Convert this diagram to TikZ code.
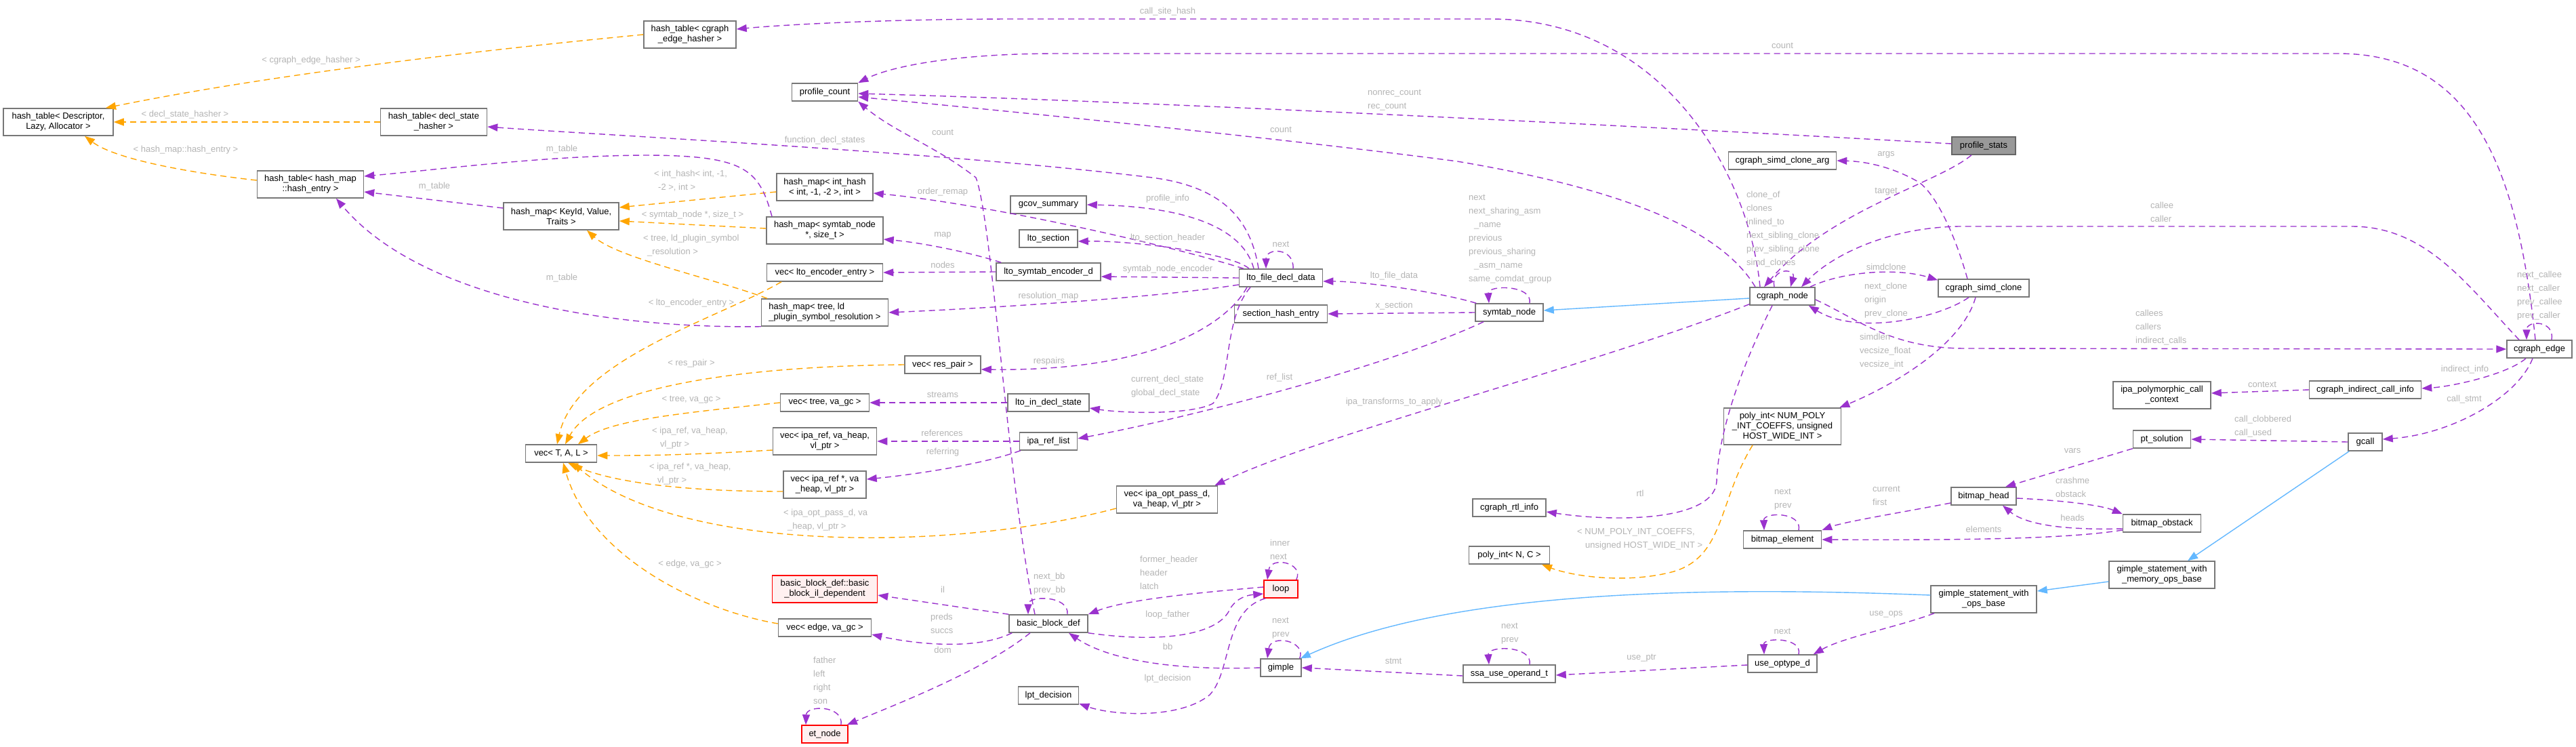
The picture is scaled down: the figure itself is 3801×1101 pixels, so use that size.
\documentclass[tikz,border=0pt]{standalone}
\usepackage{fontspec}
\setmainfont{Liberation Sans}
\usetikzlibrary{arrows.meta}
\definecolor{purp}{HTML}{9A32CD}
\definecolor{orng}{HTML}{FFA500}
\definecolor{blu}{HTML}{63B8FF}
\definecolor{lblc}{HTML}{B4B4B4}
\definecolor{bord}{HTML}{777777}
\definecolor{redfill}{HTML}{FFF0F0}
\definecolor{mainfill}{HTML}{999999}
\tikzset{
 box/.style={draw=bord, line width=1.5pt, fill=white, inner sep=0pt, minimum height=26pt, align=center, font=\fontsize{13}{15}\selectfont},
 redbox/.style={box, draw=red, fill=redfill},
 mainbox/.style={box, draw=black!60, fill=mainfill},
 pe/.style={draw=purp, line width=1.4pt, dash pattern=on 9pt off 6pt, -{Triangle[length=15pt,width=11pt]}},
 oe/.style={pe, draw=orng},
 be/.style={draw=blu, line width=1.4pt, -{Triangle[length=15pt,width=11pt]}},
 lbl/.style={text=lblc, font=\fontsize{13}{20}\selectfont, inner sep=0pt, align=left},
}
\begin{document}
\begin{tikzpicture}[x=1pt,y=-1pt]
\path[use as bounding box, fill=white] (0,0) rectangle (3801,1101);
% nodes
\node[box, minimum width=162pt, minimum height=40pt] (htd) at (86,180) {hash\_table< Descriptor,\\Lazy, Allocator >};
\node[box, minimum width=157pt, minimum height=40pt] (htdsh) at (640,180) {hash\_table< decl\_state\\\_hasher >};
\node[box, minimum width=157pt, minimum height=40pt] (hthe) at (458,272) {hash\_table< hash\_map\\::hash\_entry >};
\node[box, minimum width=170pt, minimum height=40pt] (hmkvt) at (828,319) {hash\_map< KeyId, Value,\\Traits >};
\node[box, minimum width=136pt, minimum height=40pt] (htceh) at (1018,51) {hash\_table< cgraph\\\_edge\_hasher >};
\node[box, minimum width=97pt] (pc) at (1217,136) {profile\_count};
\node[box, minimum width=142pt, minimum height=40pt] (hmih) at (1217,276) {hash\_map< int\_hash\\< int, -1, -2 >, int >};
\node[box, minimum width=112pt] (gcov) at (1547,302) {gcov\_summary};
\node[box, minimum width=86pt] (ltosec) at (1547,352) {lto\_section};
\node[box, minimum width=172pt, minimum height=40pt] (hmsn) at (1217,340) {hash\_map< symtab\_node\\*, size\_t >};
\node[box, minimum width=159pt] (csca) at (2630,237) {cgraph\_simd\_clone\_arg};
\node[mainbox, minimum width=94pt] (ps) at (2927,215) {profile\_stats};
\node[box, minimum width=105pt] (vtal) at (828,669) {vec< T, A, L >};
\node[box, minimum width=171pt] (vlee) at (1217,402) {vec< lto\_encoder\_entry >};
\node[box, minimum width=154pt] (lsed) at (1547,401) {lto\_symtab\_encoder\_d};
\node[box, minimum width=187pt, minimum height=40pt, align=left] (hmtree) at (1217,461) {hash\_map< tree, ld\\\_plugin\_symbol\_resolution >};
\node[box, minimum width=112pt] (vrp) at (1391,538) {vec< res\_pair >};
\node[box, minimum width=131pt] (vtvg) at (1217,594) {vec< tree, va\_gc >};
\node[box, minimum width=120pt] (lids) at (1547,594) {lto\_in\_decl\_state};
\node[box, minimum width=153pt, minimum height=40pt] (vir) at (1217,651) {vec< ipa\_ref, va\_heap,\\vl\_ptr >};
\node[box, minimum width=85pt] (irl) at (1547,651) {ipa\_ref\_list};
\node[box, minimum width=122pt, minimum height=40pt] (virp) at (1217,715) {vec< ipa\_ref *, va\\\_heap, vl\_ptr >};
\node[box, minimum width=123pt] (lfdd) at (1890,410) {lto\_file\_decl\_data};
\node[box, minimum width=137pt] (she) at (1890,463) {section\_hash\_entry};
\node[box, minimum width=149pt, minimum height=40pt] (viop) at (1722,737) {vec< ipa\_opt\_pass\_d,\\va\_heap, vl\_ptr >};
\node[redbox, minimum width=155pt, minimum height=40pt] (bbil) at (1217,869) {basic\_block\_def::basic\\\_block\_il\_dependent};
\node[box, minimum width=137pt] (veg) at (1217,926) {vec< edge, va\_gc >};
\node[box, minimum width=116pt] (bbd) at (1547,920) {basic\_block\_def};
\node[box, minimum width=89pt] (lpt) at (1547,1026) {lpt\_decision};
\node[redbox, minimum width=68pt] (et) at (1217,1083) {et\_node};
\node[redbox, minimum width=50pt] (loop) at (1890,869) {loop};
\node[box, minimum width=60pt] (gimple) at (1890,985) {gimple};
\node[box, minimum width=100pt] (symtab) at (2227,461) {symtab\_node};
\node[box, minimum width=96pt] (cgn) at (2630,437) {cgraph\_node};
\node[box, minimum width=173pt, minimum height=54pt] (polyN) at (2630,629) {poly\_int< NUM\_POLY\\\_INT\_COEFFS, unsigned\\HOST\_WIDE\_INT >};
\node[box, minimum width=134pt] (csc) at (2927,425) {cgraph\_simd\_clone};
\node[box, minimum width=96pt] (cge) at (3747,515) {cgraph\_edge};
\node[box, minimum width=144pt, minimum height=40pt] (ipcc) at (3190,583) {ipa\_polymorphic\_call\\\_context};
\node[box, minimum width=165pt] (cici) at (3490,575) {cgraph\_indirect\_call\_info};
\node[box, minimum width=85pt] (pts) at (3190,648) {pt\_solution};
\node[box, minimum width=50pt] (gcall) at (3490,652) {gcall};
\node[box, minimum width=96pt] (bmh) at (2927,732) {bitmap\_head};
\node[box, minimum width=115pt] (bmo) at (3190,772) {bitmap\_obstack};
\node[box, minimum width=156pt, minimum height=40pt] (gswm) at (3190,848) {gimple\_statement\_with\\\_memory\_ops\_base};
\node[box, minimum width=156pt, minimum height=40pt] (gswo) at (2927,884) {gimple\_statement\_with\\\_ops\_base};
\node[box, minimum width=108pt] (crtl) at (2227,749) {cgraph\_rtl\_info};
\node[box, minimum width=119pt] (polyNC) at (2227,819) {poly\_int< N, C >};
\node[box, minimum width=115pt] (bme) at (2630,796) {bitmap\_element};
\node[box, minimum width=136pt] (ssa) at (2227,994) {ssa\_use\_operand\_t};
\node[box, minimum width=102pt] (uod) at (2630,979) {use\_optype\_d};

% orange template edges
\draw[oe] (htceh.west) .. controls (700,75) and (400,110) .. ([xshift=70pt]htd.north);
\draw[oe] (htdsh.west) -- (htd.east);
\draw[oe] ([yshift=6pt]hthe.west) .. controls (280,255) and (170,235) .. ([xshift=39pt]htd.south);
\draw[oe] ([yshift=-7pt]hmih.west) -- ([yshift=13pt]hmkvt.east);
\draw[oe] ([yshift=3pt]hmsn.west) -- ([yshift=-7pt]hmkvt.east);
\draw[oe] ([xshift=-85pt]hmtree.north) .. controls (1050,410) and (910,380) .. ([xshift=38pt]hmkvt.south);
\draw[oe] ([xshift=-64pt]vlee.south) .. controls (1060,470) and (850,530) .. ([xshift=-6pt]vtal.north);
\draw[oe] (vrp.west) .. controls (1100,540) and (880,570) .. ([xshift=6pt]vtal.north);
\draw[oe] (vtvg.west) .. controls (1000,610) and (900,620) .. ([xshift=25pt]vtal.north);
\draw[oe] ([yshift=-13pt]vir.west) .. controls (1000,672) and (950,672) .. ([yshift=-3pt]vtal.east);
\draw[oe] ([yshift=-10pt]virp.west) .. controls (1000,725) and (900,710) .. ([xshift=10pt]vtal.south);
\draw[oe] ([yshift=-13pt]viop.west) .. controls (1400,815) and (1000,815) .. ([xshift=17pt]vtal.south);
\draw[oe] ([yshift=6pt]veg.west) .. controls (1030,900) and (870,820) .. ([xshift=3pt]vtal.south);
\draw[oe] ([xshift=-44pt]polyN.south) .. controls (2535,740) and (2545,820) .. (2470,843) .. controls (2400,862) and (2320,850) .. ([xshift=48pt]polyNC.south);

% blue inheritance edges
\draw[be] ([yshift=-3pt]cgn.west) -- ([yshift=3pt]symtab.east);
\draw[be] ([xshift=2pt]gcall.south west) -- ([xshift=38pt]gswm.north);
\draw[be] ([yshift=-10pt]gswm.west) -- ([yshift=12pt]gswo.east);
\draw[be] ([yshift=6pt]gswo.west) .. controls (2450,862) and (2120,880) .. ([xshift=-2pt]gimple.north east);

% purple usage edges
\draw[pe] ([yshift=3pt]ps.west) .. controls (2400,185) and (1700,150) .. ([yshift=-2pt]pc.east);
\draw[pe] ([xshift=-40pt]cgn.north) .. controls (2540,340) and (2400,280) .. (2150,238) .. controls (1900,205) and (1500,165) .. ([yshift=-7pt]pc.east);
\draw[pe] ([xshift=-33pt]cgn.north) .. controls (2580,250) and (2450,28) .. (2200,28) -- (1500,28) .. controls (1300,28) and (1150,37) .. ([yshift=8pt]htceh.east);
\draw[pe] ([xshift=-6pt]cge.north) .. controls (3715,250) and (3650,79) .. (3450,79) -- (1560,79) .. controls (1400,79) and (1310,100) .. (pc.north east);
\draw[pe] ([xshift=-30pt]cge.north) .. controls (3640,420) and (3580,334) .. (3470,334) -- (2890,334) .. controls (2780,336) and (2700,380) .. ([xshift=28pt]cgn.north);
\draw[pe] ([xshift=-18pt]ps.south) .. controls (2860,270) and (2700,310) .. ([xshift=-27pt]cgn.north);
\draw[pe] ([xshift=-24pt]csc.north) .. controls (2880,330) and (2850,280) .. (2830,268) .. controls (2790,245) and (2750,238) .. (csca.east);
\draw[pe] ([xshift=-12pt]cgn.north) .. controls (2612,395) and (2650,395) .. ([xshift=12pt]cgn.north);
\draw[pe] ([xshift=-8pt]cgn.north east) .. controls (2720,400) and (2800,395) .. ([yshift=-2pt]csc.north west);
\draw[pe] ([xshift=-22pt]csc.south) .. controls (2860,470) and (2740,495) .. ([xshift=-10pt]cgn.south east);
\draw[pe] ([xshift=-12pt]csc.south) .. controls (2895,510) and (2790,570) .. ([xshift=-3pt]polyN.north east);
\draw[pe] ([yshift=-5pt]cgn.east) .. controls (2740,470) and (2790,514) .. (2900,514) -- (cge.west);
\draw[pe] ([xshift=-15pt]cgn.south) .. controls (2560,560) and (2535,650) .. (2533,710) .. controls (2530,770) and (2380,770) .. ([yshift=-6pt]crtl.east);
\draw[pe] ([yshift=2pt]cgn.south west) .. controls (2350,540) and (1950,640) .. ([xshift=-5pt]viop.north east);
\draw[pe] ([xshift=2pt]symtab.north west) .. controls (2120,430) and (2010,415) .. ([yshift=-5pt]lfdd.east);
\draw[pe] (symtab.west) -- (she.east);
\draw[pe] ([xshift=30pt]symtab.north) .. controls (2262,420) and (2195,420) .. ([xshift=-30pt]symtab.north);
\draw[pe] ([xshift=-38pt]symtab.south) .. controls (2050,540) and (1760,615) .. ([yshift=4pt]irl.east);
\draw[pe] ([yshift=-10pt]lfdd.west) .. controls (1700,440) and (1450,455) .. (hmtree.east);
\draw[pe] (lfdd.west) -- ([yshift=-7pt]lsed.east);
\draw[pe] ([xshift=-50pt]lfdd.south) .. controls (1815,470) and (1720,548) .. ([yshift=-7pt]vrp.east);
\draw[pe] ([xshift=-45pt]lfdd.south) .. controls (1805,470) and (1818,560) .. (1790,595) .. controls (1760,612) and (1660,610) .. ([yshift=-8pt]lids.east);
\draw[pe] ([xshift=18pt]lfdd.north) .. controls (1910,365) and (1868,365) .. ([xshift=-22pt]lfdd.north);
\draw[pe] ([xshift=-33pt]lfdd.north) .. controls (1845,320) and (1800,275) .. (1700,262) .. controls (1400,225) and (900,200) .. ([yshift=-7pt]htdsh.east);
\draw[pe] ([xshift=-40pt]lfdd.north) .. controls (1835,340) and (1760,305) .. (gcov.east);
\draw[pe] ([xshift=-47pt]lfdd.north) .. controls (1820,375) and (1680,355) .. ([yshift=-4pt]ltosec.east);
\draw[pe] ([xshift=-55pt]lfdd.north) .. controls (1720,360) and (1450,300) .. ([yshift=-9pt]hmih.east);
\draw[pe] (lsed.west) -- (vlee.east);
\draw[pe] ([xshift=8pt]lsed.north west) .. controls (1430,372) and (1360,358) .. ([yshift=-13pt]hmsn.east);
\draw[pe] ([xshift=-78pt]hmsn.north) .. controls (1120,250) and (1100,229) .. (950,229) .. controls (800,230) and (650,250) .. ([yshift=12pt]hthe.east);
\draw[pe] ([yshift=12pt]hmkvt.west) -- ([yshift=-11pt]hthe.east);
\draw[pe] (hmtree.south west) .. controls (900,485) and (620,440) .. ([xshift=38pt]hthe.south);
\draw[pe] (lids.west) -- (vtvg.east);
\draw[pe] (irl.west) -- (vir.east);
\draw[pe] ([xshift=2pt]irl.south west) .. controls (1450,685) and (1350,700) .. ([yshift=8pt]virp.east);
\draw[pe] ([xshift=-20pt]bbd.north) .. controls (1485,700) and (1465,330) .. (1440,262) .. controls (1380,215) and (1320,195) .. (pc.south east);
\draw[pe] (bbd.north west) -- ([yshift=-9pt]bbil.east);
\draw[pe] ([xshift=5pt]bbd.south west) .. controls (1440,960) and (1350,950) .. ([yshift=-10pt]veg.east);
\draw[pe] ([xshift=-27pt]bbd.south) .. controls (1450,990) and (1320,1040) .. ([xshift=-2pt]et.north east);
\draw[pe] ([xshift=24pt]et.north) .. controls (1245,1040) and (1190,1040) .. ([xshift=-28pt]et.north);
\draw[pe] ([xshift=28pt]bbd.north) .. controls (1578,878) and (1517,878) .. ([xshift=-30pt]bbd.north);
\draw[pe] ([yshift=3pt]loop.west) .. controls (1760,875) and (1660,885) .. (bbd.north east);
\draw[pe] (bbd.south east) .. controls (1720,950) and (1800,935) .. (1815,898) .. controls (1825,882) and (1840,878) .. ([yshift=-7pt]loop.west);
\draw[pe] ([xshift=3pt]loop.south west) .. controls (1805,900) and (1818,990) .. (1785,1025) .. controls (1740,1062) and (1640,1055) .. ([yshift=-12pt]lpt.east);
\draw[pe] ([xshift=-3pt]loop.north east) .. controls (1925,830) and (1875,820) .. ([xshift=-20pt]loop.north);
\draw[pe] (gimple.west) .. controls (1720,990) and (1630,970) .. ([xshift=30pt]bbd.south);
\draw[pe] ([xshift=-3pt]gimple.north east) .. controls (1928,945) and (1875,935) .. ([xshift=-20pt]gimple.north);
\draw[pe] ([yshift=-3pt]ssa.west) -- (gimple.east);
\draw[pe] ([xshift=30pt]ssa.north) .. controls (2262,952) and (2195,952) .. ([xshift=-30pt]ssa.north);
\draw[pe] ([yshift=-2pt]uod.west) -- ([yshift=-2pt]ssa.east);
\draw[pe] ([xshift=24pt]uod.north) .. controls (2660,940) and (2602,940) .. ([xshift=-27pt]uod.north);
\draw[pe] ([xshift=-73pt]gswo.south) .. controls (2800,925) and (2720,940) .. ([xshift=-6pt]uod.north east);
\draw[pe] ([xshift=-20pt]cge.south) .. controls (3700,552) and (3620,570) .. ([yshift=2pt]cici.east);
\draw[pe] ([xshift=-10pt]cge.south) .. controls (3715,585) and (3620,640) .. ([yshift=4pt]gcall.east);
\draw[pe] ([xshift=18pt]cge.north) .. controls (3770,472) and (3728,472) .. ([xshift=-19pt]cge.north);
\draw[pe] (cici.west) -- ([yshift=3pt]ipcc.east);
\draw[pe] (gcall.west) -- (pts.east);
\draw[pe] (pts.south west) -- ([xshift=32pt]bmh.north);
\draw[pe] ([yshift=-3pt]bmh.east) .. controls (3040,738) and (3100,745) .. (bmo.north west);
\draw[pe] ([yshift=-8pt]bmo.west) .. controls (3050,782) and (2990,775) .. ([xshift=28pt]bmh.south);
\draw[pe] ([yshift=-10pt]bmo.west) .. controls (3050,795) and (2900,797) .. (bme.east);
\draw[pe] ([yshift=-10pt]bmh.west) .. controls (2800,757) and (2720,770) .. (bme.north east);
\draw[pe] ([xshift=24pt]bme.north) .. controls (2660,755) and (2602,755) .. ([xshift=-27pt]bme.north);

% labels (single line)
\node[lbl] (l1) at (459,89) {< cgraph\_edge\_hasher >};
\node[lbl] (l2) at (273,169) {< decl\_state\_hasher >};
\node[lbl] (l3) at (274,221) {< hash\_map::hash\_entry >};
\node[lbl] (l4) at (829,220) {m\_table};
\node[lbl] (l5) at (641,275) {m\_table};
\node[lbl] (l6) at (829,410) {m\_table};
\node[lbl] (l7) at (1723,17) {call\_site\_hash};
\node[lbl] (l8) at (1391,195) {count};
\node[lbl] (l9) at (1217,207) {function\_decl\_states};
\node[lbl] (l10) at (1022,317) {< symtab\_node *, size\_t >};
\node[lbl] (l11) at (1391,283) {order\_remap};
\node[lbl] (l12) at (1890,191) {count};
\node[lbl] (l13) at (1723,293) {profile\_info};
\node[lbl] (l14) at (1391,347) {map};
\node[lbl] (l15) at (1723,351) {lto\_section\_header};
\node[lbl] (l16) at (1890,360) {next};
\node[lbl] (l17) at (2630,67) {count};
\node[lbl] (l18) at (2783,228) {args};
\node[lbl] (l19) at (2783,283) {target};
\node[lbl] (l20) at (2783,394) {simdclone};
\node[lbl] (l21) at (3637,545) {indirect\_info};
\node[lbl] (l22) at (3338,567) {context};
\node[lbl] (l23) at (3636,589) {call\_stmt};
\node[lbl] (l24) at (3058,665) {vars};
\node[lbl] (l25) at (3058,764) {heads};
\node[lbl] (l26) at (2927,781) {elements};
\node[lbl] (l27) at (2420,728) {rtl};
\node[lbl] (l28) at (2057,593) {ipa\_transforms\_to\_apply};
\node[lbl] (l29) at (2057,407) {lto\_file\_data};
\node[lbl] (l30) at (2057,451) {x\_section};
\node[lbl] (l31) at (1888,557) {ref\_list};
\node[lbl] (l32) at (1391,391) {nodes};
\node[lbl] (l33) at (1723,397) {symtab\_node\_encoder};
\node[lbl] (l34) at (1547,437) {resolution\_map};
\node[lbl] (l35) at (1548,533) {respairs};
\node[lbl] (l36) at (1391,582) {streams};
\node[lbl] (l37) at (1390,639) {references};
\node[lbl] (l38) at (1391,667) {referring};
\node[lbl] (l39) at (1391,870) {il};
\node[lbl] (l40) at (1391,959) {dom};
\node[lbl] (l41) at (1723,907) {loop\_father};
\node[lbl] (l42) at (1723,954) {bb};
\node[lbl] (l43) at (1723,1001) {lpt\_decision};
\node[lbl] (l44) at (2056,975) {stmt};
\node[lbl] (l45) at (2422,971) {use\_ptr};
\node[lbl] (l46) at (2783,906) {use\_ops};
\node[lbl] (l47) at (2630,931) {next};
\node[lbl] (l48) at (1020,536) {< res\_pair >};
\node[lbl] (l49) at (1020,447) {< lto\_encoder\_entry >};
\node[lbl] (l50) at (1020,590) {< tree, va\_gc >};
\node[lbl] (l51) at (1018,832) {< edge, va\_gc >};
% labels (multi line)
\node[lbl, anchor=west] (m1) at (2018,148) {nonrec\_count\\rec\_count};
\node[lbl, anchor=west] (m2) at (965,267) {< int\_hash< int, -1,\\\hspace*{6pt}-2 >, int >};
\node[lbl, anchor=west] (m3) at (949,362) {< tree, ld\_plugin\_symbol\\\hspace*{6pt}\_resolution >};
\node[lbl, anchor=west] (m4) at (962,646) {< ipa\_ref, va\_heap,\\\hspace*{12pt}vl\_ptr >};
\node[lbl, anchor=west] (m5) at (958,699) {< ipa\_ref *, va\_heap,\\\hspace*{12pt}vl\_ptr >};
\node[lbl, anchor=west] (m6) at (1156,767) {< ipa\_opt\_pass\_d, va\\\hspace*{6pt}\_heap, vl\_ptr >};
\node[lbl, anchor=west] (m7) at (2167,353) {next\\next\_sharing\_asm\\\hspace*{8pt}\_name\\previous\\previous\_sharing\\\hspace*{8pt}\_asm\_name\\same\_comdat\_group};
\node[lbl, anchor=west] (m8) at (2577,338) {clone\_of\\clones\\inlined\_to\\next\_sibling\_clone\\prev\_sibling\_clone\\simd\_clones};
\node[lbl, anchor=west] (m9) at (2751,443) {next\_clone\\origin\\prev\_clone};
\node[lbl, anchor=west] (m10) at (2744,518) {simdlen\\vecsize\_float\\vecsize\_int};
\node[lbl, anchor=west] (m11) at (3151,483) {callees\\callers\\indirect\_calls};
\node[lbl, anchor=west] (m12) at (3173,313) {callee\\caller};
\node[lbl, anchor=west] (m13) at (3714,436) {next\_callee\\next\_caller\\prev\_callee\\prev\_caller};
\node[lbl, anchor=west] (m14) at (3297,629) {call\_clobbered\\call\_used};
\node[lbl, anchor=west] (m15) at (3033,719) {crashme\\obstack};
\node[lbl, anchor=west] (m16) at (2763,731) {current\\first};
\node[lbl, anchor=west] (m17) at (2618,737) {next\\prev};
\node[lbl, anchor=west] (m18) at (2327,795) {< NUM\_POLY\_INT\_COEFFS,\\\hspace*{12pt}unsigned HOST\_WIDE\_INT >};
\node[lbl, anchor=west] (m19) at (1669,570) {current\_decl\_state\\global\_decl\_state};
\node[lbl, anchor=west] (m20) at (1682,845) {former\_header\\header\\latch};
\node[lbl, anchor=west] (m21) at (1874,811) {inner\\next};
\node[lbl, anchor=west] (m22) at (1525,861) {next\_bb\\prev\_bb};
\node[lbl, anchor=west] (m23) at (1373,920) {preds\\succs};
\node[lbl, anchor=west] (m24) at (1200,1004) {father\\left\\right\\son};
\node[lbl, anchor=west] (m25) at (1877,927) {next\\prev};
\node[lbl, anchor=west] (m26) at (2215,935) {next\\prev};
\end{tikzpicture}
\end{document}
